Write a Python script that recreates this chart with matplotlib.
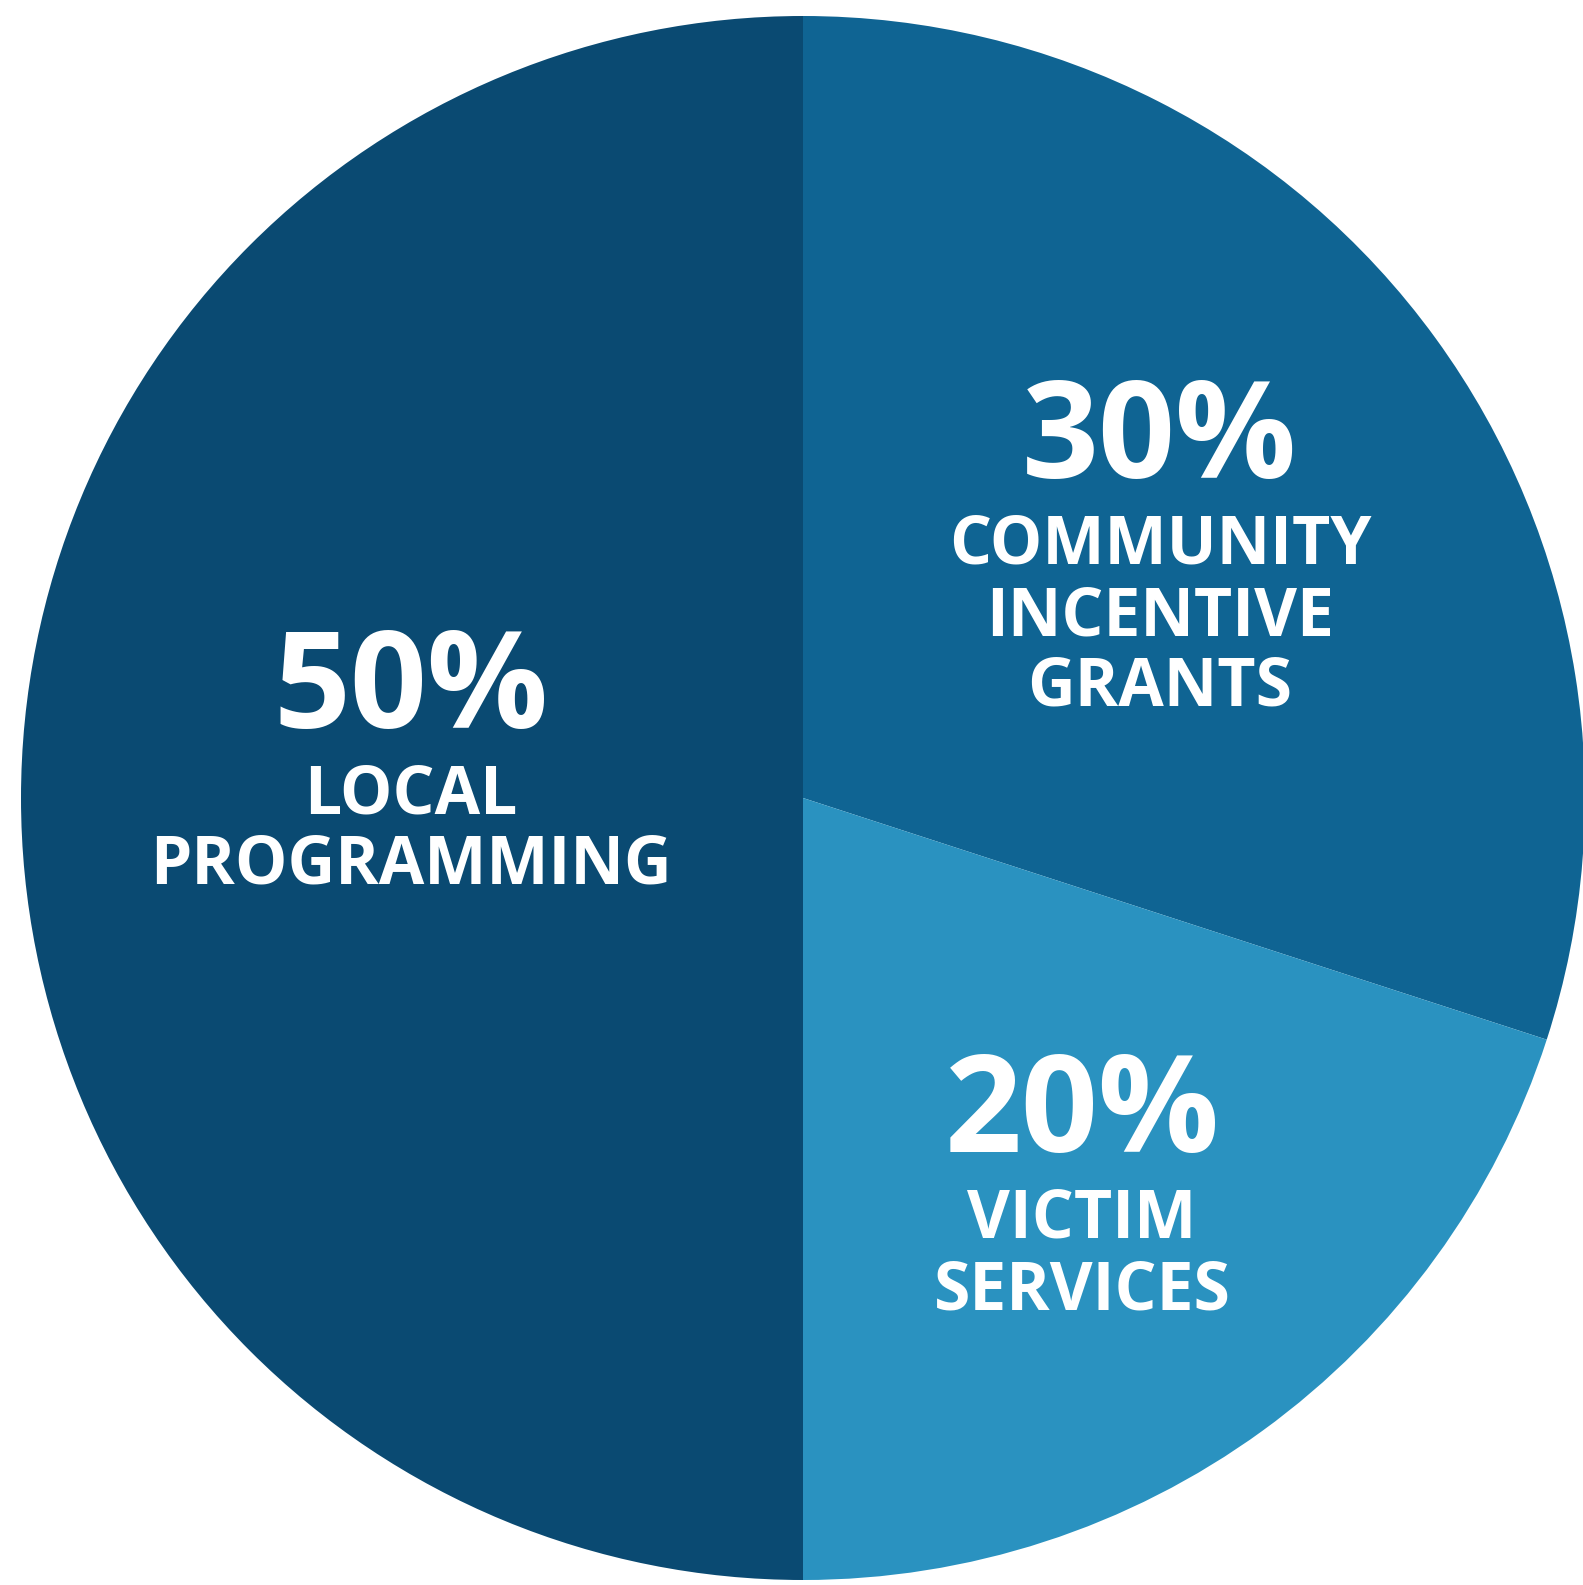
import matplotlib
matplotlib.use("Agg")
import matplotlib.pyplot as plt

# dados do gráfico
categorias = ["LOCAL\nPROGRAMMING", "COMMUNITY\nINCENTIVE\nGRANTS", "VICTIM\nSERVICES"]
valores = [50, 30, 20]
cores = ["#0a4a72", "#0f6493", "#2a92c0"]
rotulos_pct = ["50%", "30%", "20%"]

W, H = 1583, 1585
fig = plt.figure(figsize=(W / 100, H / 100), dpi=100)
ax = fig.add_axes([0, 0, 1, 1])

cx, cy, r = 803, H - 798, 782
ax.pie(valores, colors=cores, startangle=270, counterclock=False,
       center=(cx, cy), radius=r, frame=True,
       wedgeprops=dict(linewidth=0))
ax.set_xlim(0, W)
ax.set_ylim(0, H)
ax.set_aspect("equal")
ax.axis("off")

# posições dos textos (x central, linha de base do % e das linhas do rótulo)
pos = [
    (411, 728, [813, 883]),
    (1160, 478, [563, 635, 706]),
    (1082, 1152, [1238, 1310]),
]

fonte = "Open Sans"
for pct, cat, (x, yb, linhas) in zip(rotulos_pct, categorias, pos):
    ax.text(x, H - yb, pct, color="white", fontsize=97, fontweight="bold",
            family=fonte, ha="center", va="baseline")
    for texto, yl in zip(cat.split("\n"), linhas):
        ax.text(x, H - yl, texto, color="white", fontsize=47.5, fontweight="bold",
                family=fonte, ha="center", va="baseline")

fig.savefig("out.png", dpi=100, facecolor="white")
